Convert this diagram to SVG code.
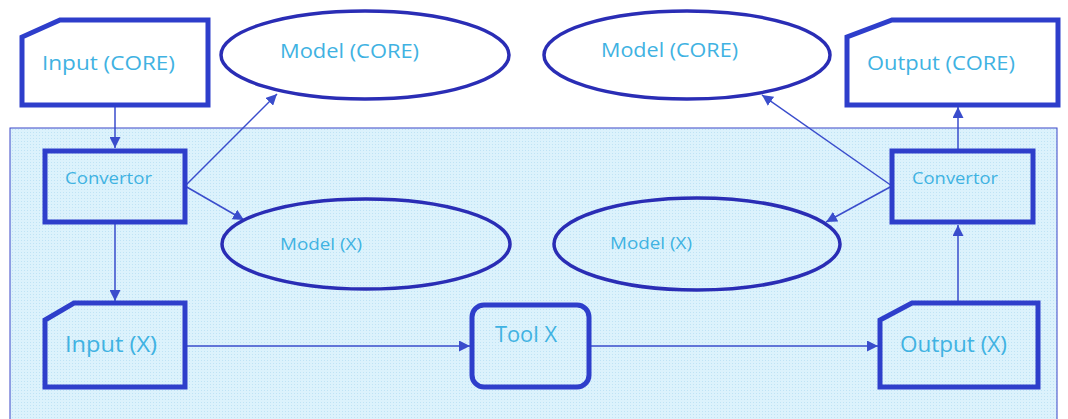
<svg xmlns="http://www.w3.org/2000/svg" width="1068" height="419" viewBox="0 0 1068 419">
<style>
.box{fill:none;stroke:#2e3ecb;stroke-width:5}
.wbox{fill:#ffffff;stroke:#2e3ecb;stroke-width:5}
.ell{fill:none;stroke:#2a2db5;stroke-width:3.5}
.well{fill:#ffffff;stroke:#2a2db5;stroke-width:3.5}
.conn{fill:none;stroke:#3a4dcc;stroke-width:1.5}
.t{font-family:"Open Sans","Liberation Sans",sans-serif;fill:#40b2e2;font-size:20px}
.tx{font-family:"Open Sans","Liberation Sans",sans-serif;fill:#40b2e2;font-size:21px}
.ts{font-family:"Open Sans","Liberation Sans",sans-serif;fill:#40b2e2;font-size:17px}
</style>
<defs>
<pattern id="dots" width="3" height="3" patternUnits="userSpaceOnUse">
<rect width="3" height="3" fill="#dcf2fc"/>
<rect width="1" height="1" fill="#bfe3f5"/>
</pattern>
<marker id="arr" viewBox="0 0 10 10" refX="10" refY="5" markerWidth="11" markerHeight="11" markerUnits="userSpaceOnUse" orient="auto">
<path d="M0,0 L10,5 L0,10 z" fill="#3a4dcc"/>
</marker>
</defs>
<rect x="0" y="0" width="1068" height="419" fill="#ffffff"/>
<rect id="panel" x="10" y="128" width="1047" height="295" fill="url(#dots)" stroke="#3b47c8" stroke-width="1"/>
<g id="connectors">
<line class="conn" x1="115" y1="107" x2="115" y2="148" marker-end="url(#arr)"/>
<line class="conn" x1="185" y1="186" x2="277" y2="94" marker-end="url(#arr)"/>
<line class="conn" x1="185" y1="186" x2="244" y2="220" marker-end="url(#arr)"/>
<line class="conn" x1="115" y1="224" x2="115" y2="301" marker-end="url(#arr)"/>
<line class="conn" x1="185" y1="346" x2="470" y2="346" marker-end="url(#arr)"/>
<line class="conn" x1="589" y1="346" x2="878" y2="346" marker-end="url(#arr)"/>
<line class="conn" x1="958" y1="301" x2="958" y2="225" marker-end="url(#arr)"/>
<line class="conn" x1="958" y1="149" x2="958" y2="107" marker-end="url(#arr)"/>
<line class="conn" x1="892" y1="186" x2="762" y2="95" marker-end="url(#arr)"/>
<line class="conn" x1="892" y1="186" x2="826" y2="222" marker-end="url(#arr)"/>
</g>
<g id="input-core">
<path class="wbox" d="M60,20 L208,20 L208,105 L22,105 L22,37 Z"/>
<text class="t" x="42" y="70" textLength="133" lengthAdjust="spacingAndGlyphs">Input (CORE)</text>
</g>
<g id="model-core-left">
<ellipse class="well" cx="365" cy="55" rx="144" ry="44"/>
<text class="t" x="280" y="58" textLength="139" lengthAdjust="spacingAndGlyphs">Model (CORE)</text>
</g>
<g id="model-core-right">
<ellipse class="well" cx="687" cy="55" rx="143" ry="44"/>
<text class="t" x="601" y="57" textLength="137" lengthAdjust="spacingAndGlyphs">Model (CORE)</text>
</g>
<g id="output-core">
<path class="wbox" d="M892,20 L1058,20 L1058,105 L847,105 L847,37 Z"/>
<text class="t" x="867" y="70" textLength="148" lengthAdjust="spacingAndGlyphs">Output (CORE)</text>
</g>
<g id="convertor-left">
<rect class="box" x="45" y="151" width="140" height="71"/>
<text class="ts" x="65" y="184" textLength="87" lengthAdjust="spacingAndGlyphs">Convertor</text>
</g>
<g id="convertor-right">
<rect class="box" x="892" y="151" width="141" height="71"/>
<text class="ts" x="912" y="184" textLength="86" lengthAdjust="spacingAndGlyphs">Convertor</text>
</g>
<g id="model-x-left">
<ellipse class="ell" cx="366" cy="244" rx="144" ry="45"/>
<text class="ts" x="280" y="250" textLength="82" lengthAdjust="spacingAndGlyphs">Model (X)</text>
</g>
<g id="model-x-right">
<ellipse class="ell" cx="697" cy="244" rx="143" ry="46"/>
<text class="ts" x="610" y="249" textLength="82" lengthAdjust="spacingAndGlyphs">Model (X)</text>
</g>
<g id="input-x">
<path class="box" d="M74,303 L185,303 L185,387 L45,387 L45,320 Z"/>
<text class="tx" x="65" y="352" textLength="92" lengthAdjust="spacingAndGlyphs">Input (X)</text>
</g>
<g id="tool-x">
<rect class="box" x="472" y="305" width="117" height="82" rx="12"/>
<text class="tx" x="495" y="342" textLength="62" lengthAdjust="spacingAndGlyphs">Tool X</text>
</g>
<g id="output-x">
<path class="box" d="M912,303 L1038,303 L1038,387 L880,387 L880,320 Z"/>
<text class="tx" x="900" y="352" textLength="107" lengthAdjust="spacingAndGlyphs">Output (X)</text>
</g>
</svg>
